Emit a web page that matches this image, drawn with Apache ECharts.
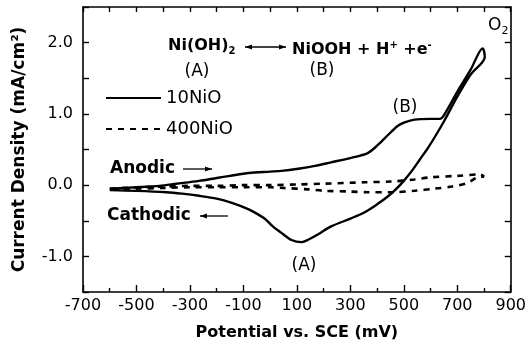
<!DOCTYPE html>
<html>
<head>
<meta charset="utf-8">
<script src="https://cdn.jsdelivr.net/npm/echarts@6/dist/echarts.min.js"></script>
<style>
  html, body { margin: 0; padding: 0; background: #fff; }
  #myChart { width: 529px; height: 349px; }
</style>
</head>
<body>
<div id="myChart"></div>
<script>
// 曲线数据 (电位 mV, 电流密度 mA/cm2)，按扫描顺序排列
const seriesNames = ['10NiO', '400NiO']

const ni10Anodic = [
  [-600, -0.05], [-500, -0.03], [-414, -0.01], [-350, 0.02], [-266, 0.06], [-200, 0.1],
  [-150, 0.13], [-80, 0.17], [0, 0.19], [42, 0.2], [105, 0.23], [168, 0.27], [228, 0.32],
  [300, 0.38], [365, 0.45], [402, 0.56], [440, 0.7], [477, 0.83], [503, 0.88], [540, 0.92],
  [600, 0.93], [635, 0.93], [650, 0.98], [700, 1.31], [750, 1.62], [795, 1.92]
]
const ni10Cathodic = [
  [803, 1.8], [750, 1.55], [700, 1.24], [651, 0.9], [620, 0.7], [590, 0.52], [560, 0.36],
  [530, 0.2], [500, 0.06], [470, -0.06], [440, -0.16], [400, -0.27], [354, -0.38], [300, -0.47],
  [228, -0.58], [180, -0.69], [140, -0.77], [117, -0.8], [80, -0.77], [42, -0.67],
  [10, -0.58], [-17, -0.48], [-50, -0.4], [-80, -0.34], [-143, -0.25], [-200, -0.19],
  [-266, -0.15], [-330, -0.12], [-388, -0.1], [-500, -0.08], [-600, -0.07]
]
const ni400Anodic = [
  [-600, -0.05], [-500, -0.03], [-400, -0.02], [-300, -0.01], [-200, -0.01], [-100, 0.0],
  [0, 0.0], [105, 0.01], [200, 0.02], [354, 0.04], [451, 0.05], [540, 0.08], [600, 0.11],
  [700, 0.13], [785, 0.15], [800, 0.12]
]
const ni400Cathodic = [
  [785, 0.12], [737, 0.03], [680, -0.02], [614, -0.05], [540, -0.08], [451, -0.1],
  [365, -0.1], [300, -0.09], [205, -0.08], [143, -0.06], [50, -0.04], [0, -0.03],
  [-100, -0.03], [-200, -0.03], [-300, -0.03], [-400, -0.04], [-500, -0.05], [-600, -0.06]
]

const xTicks = [-700, -500, -300, -100, 100, 300, 500, 700, 900]
const yTicks = [-1.0, 0.0, 1.0, 2.0]

const FONT = 'DejaVu Sans'
const black = '#000'

// 小箭头
function arrow(x1, x2, y, heads) {
  const children = [{
    type: 'line', shape: { x1: x1, y1: y, x2: x2, y2: y },
    style: { stroke: black, lineWidth: 1.3 }
  }]
  heads.forEach(function (hx) {
    const dir = hx === x2 ? (x2 > x1 ? 1 : -1) : (x1 > x2 ? 1 : -1)
    children.push({
      type: 'polygon',
      shape: { points: [[hx, y], [hx - dir * 7, y - 2.5], [hx - dir * 7, y + 2.5]] },
      style: { fill: black }
    })
  })
  return { type: 'group', children: children }
}

function label(x, y, text, opts) {
  return {
    type: 'text', x: x, y: y,
    style: Object.assign({
      text: text, font: '17px "' + FONT + '"', fill: black,
      align: 'center', verticalAlign: 'middle'
    }, opts || {})
  }
}

const richEq = {
  b: { fontFamily: FONT, fontWeight: 'bold', fontSize: 16, color: black, lineHeight: 24, verticalAlign: 'middle' },
  sub: { fontFamily: FONT, fontWeight: 'bold', fontSize: 10, color: black, lineHeight: 24, verticalAlign: 'bottom', padding: [0, 0, 2, 0] },
  sup: { fontFamily: FONT, fontWeight: 'bold', fontSize: 10, color: black, lineHeight: 24, verticalAlign: 'top', padding: [2, 0, 0, 0] },
  n: { fontFamily: FONT, fontSize: 17, color: black, lineHeight: 24, verticalAlign: 'middle' }
}

const baseX = {
  type: 'value', min: -700, max: 900,
  axisLine: { onZero: false, lineStyle: { color: black, width: 1.6 } },
  splitLine: { show: false }
}
const baseY = {
  type: 'value', min: -1.5, max: 2.5, interval: 0.5,
  axisLine: { onZero: false, lineStyle: { color: black, width: 1.6 } },
  splitLine: { show: false }
}

const lineSeries = (name, data, dashed) => ({
  name: name, type: 'line', data: data,
  showSymbol: false, symbol: 'none', smooth: 0.3,
  color: black,
  lineStyle: { color: black, width: dashed ? 2.6 : 2.4, type: dashed ? [6, 6] : 'solid' }
})

const option = {
  animation: false,
  backgroundColor: '#fff',
  grid: { left: 83, right: 15, top: 7, bottom: 57 },
  legend: {
    data: seriesNames, orient: 'vertical', left: 100, top: 84,
    itemWidth: 55, itemHeight: 14, itemGap: 13,
    itemStyle: { opacity: 0, borderWidth: 0 },
    textStyle: { fontFamily: FONT, fontSize: 18, color: black }
  },
  xAxis: [
    Object.assign({}, baseX, {
      position: 'bottom', interval: 200,
      name: 'Potential vs. SCE (mV)', nameLocation: 'middle', nameGap: 33,
      nameTextStyle: { fontFamily: FONT, fontWeight: 'bold', fontSize: 16, color: black },
      axisTick: { inside: true, length: 7, lineStyle: { color: black, width: 1.4 } },
      minorTick: { show: true, splitNumber: 2, length: 4, lineStyle: { color: black, width: 1.4 } },
      axisLabel: {
        margin: 6, fontFamily: FONT, fontSize: 16, color: black,
        formatter: v => (xTicks.indexOf(v) >= 0 ? String(v) : '')
      }
    }),
    Object.assign({}, baseX, {
      position: 'top', interval: 100,
      axisTick: { inside: true, length: 5, lineStyle: { color: black, width: 1.4 } },
      axisLabel: { show: false }
    })
  ],
  yAxis: [
    Object.assign({}, baseY, {
      position: 'left',
      name: 'Current Density (mA/cm²)', nameLocation: 'middle', nameGap: 55,
      nameTextStyle: { fontFamily: FONT, fontWeight: 'bold', fontSize: 17, color: black },
      axisTick: { inside: true, length: 6, lineStyle: { color: black, width: 1.4 } },
      axisLabel: {
        margin: 10, fontFamily: FONT, fontSize: 16, color: black,
        formatter: v => (yTicks.some(t => Math.abs(t - v) < 1e-6) ? v.toFixed(1) : '')
      }
    }),
    Object.assign({}, baseY, {
      position: 'right',
      axisTick: { inside: true, length: 6, lineStyle: { color: black, width: 1.4 } },
      axisLabel: { show: false }
    })
  ],
  series: [
    lineSeries('10NiO', ni10Anodic.concat(ni10Cathodic), false),
    lineSeries('400NiO', ni400Anodic.concat(ni400Cathodic), true)
  ],
  graphic: [
    {
      type: 'text', left: 168, top: 38,
      style: { text: '{b|Ni(OH)}{sub|2}', rich: richEq }
    },
    arrow(245, 286, 47, [245, 286]),
    {
      type: 'text', left: 292, top: 38,
      style: { text: '{b|NiOOH + H}{sup|+}{b| +e}{sup|-}', rich: richEq }
    },
    label(197, 72, '(A)'),
    label(322, 71, '(B)'),
    {
      type: 'text', left: 488, top: 17,
      style: { text: '{n|O}{sub|2}', rich: Object.assign({}, richEq, {
        sub: { fontFamily: FONT, fontSize: 11, color: black, lineHeight: 24, verticalAlign: 'bottom', padding: [0, 0, 1, 0] }
      }) }
    },
    label(405, 108, '(B)'),
    label(304, 266, '(A)'),
    label(110, 169, 'Anodic', { align: 'left', font: 'bold 17px "' + FONT + '"' }),
    arrow(183, 212, 169, [212]),
    label(107, 216, 'Cathodic', { align: 'left', font: 'bold 17px "' + FONT + '"' }),
    arrow(228, 200, 216, [200])
  ]
}

let myChart = echarts.init(document.getElementById('myChart'))
myChart.setOption(option)
</script>
</body>
</html>
